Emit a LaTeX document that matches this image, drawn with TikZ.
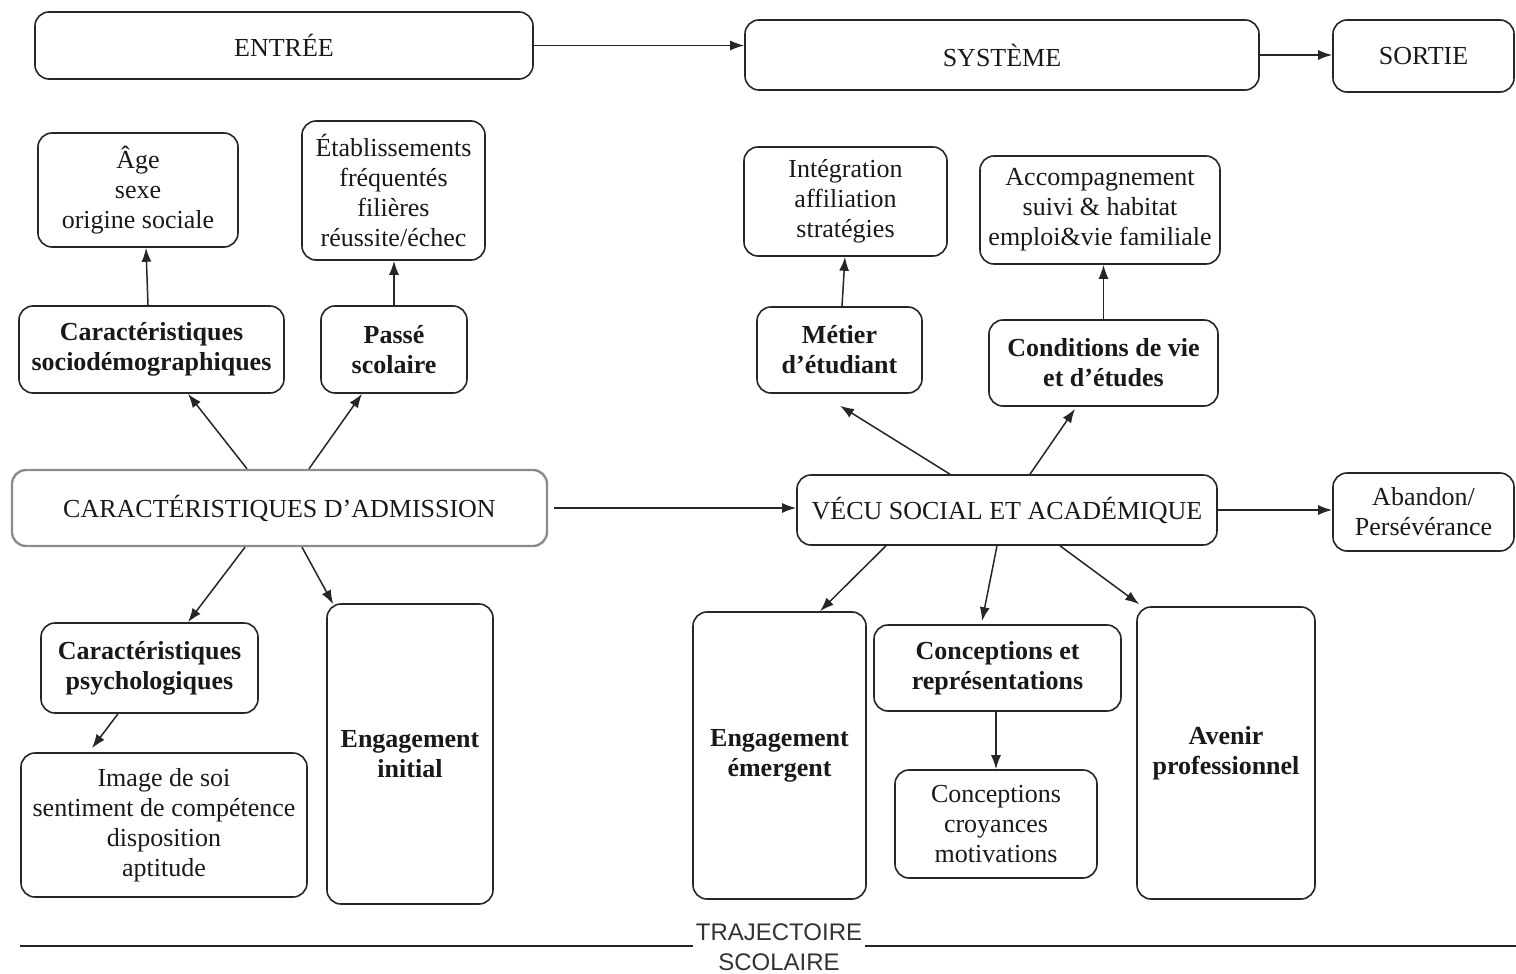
\documentclass[tikz,border=0pt]{standalone}
\usepackage{fontspec}
\setmainfont{Liberation Serif}
\newfontfamily\trajfont{Liberation Sans}
\usetikzlibrary{arrows.meta,calc}
\tikzset{
  box/.style={draw=black!85, line width=0.8pt, rounded corners=7pt, align=center,
    inner sep=0pt, font=\fontsize{13}{15}\selectfont, text=black!90},
  bbox/.style={box, font=\fontsize{13}{15}\selectfont\bfseries},
  admbox/.style={box, draw=black!45, line width=1.2pt},
  arr/.style={line width=0.75pt, draw=black!85, -{Latex[length=7pt,width=5pt]}},
  rule/.style={line width=0.7pt, draw=black!85}
}
\begin{document}
\begin{tikzpicture}[x=0.5pt, y=-0.5pt]
\useasboundingbox (0,0) rectangle (1516,974);

% top row
\node[box, minimum width=249pt, minimum height=33.5pt] (entree) at (284,45.5) {ENTRÉE};
\node[box, minimum width=257pt, minimum height=35pt] (systeme) at (1002,55) {SYSTÈME};
\node[box, minimum width=90.5pt, minimum height=36pt] (sortie) at (1423.5,56) {SORTIE};

% admission side
\node[box, minimum width=100pt, minimum height=57pt] (age) at (138,190) {Âge\\sexe\\origine sociale};
\node[box, minimum width=91.5pt, minimum height=69.5pt] (etab) at (393.5,190.5) {Établissements\\fréquentés\\filières\\réussite/échec};
\node[bbox, minimum width=132.5pt, minimum height=43.5pt] (socio) at (151.5,349.5) {Caractéristiques\\sociodémographiques};
\node[bbox, minimum width=73pt, minimum height=43.5pt] (passe) at (394,349.5) {Passé\\scolaire};
\node[admbox, minimum width=267.5pt, minimum height=38pt] (adm) at (279.5,508) {CARACTÉRISTIQUES D’ADMISSION};
\node[bbox, minimum width=108.5pt, minimum height=45pt] (psych) at (149.5,668) {Caractéristiques\\psychologiques};
\node[box, minimum width=143pt, minimum height=72pt] (image) at (164,825) {Image de soi\\sentiment de compétence\\disposition\\aptitude};
\node[bbox, minimum width=83pt, minimum height=150pt] (enginit) at (410,754) {Engagement\\initial};

% lived experience side
\node[box, minimum width=101.5pt, minimum height=54.5pt] (integ) at (845.5,201.5) {Intégration\\affiliation\\stratégies};
\node[box, minimum width=120pt, minimum height=54pt] (accomp) at (1100,210) {Accompagnement\\suivi \& habitat\\emploi\&vie familiale};
\node[bbox, minimum width=82.5pt, minimum height=43pt] (metier) at (839.5,350) {Métier\\d’étudiant};
\node[bbox, minimum width=114.5pt, minimum height=43pt] (cond) at (1103.5,363) {Conditions de vie\\et d’études};
\node[box, minimum width=210pt, minimum height=35pt] (vecu) at (1007,510) {VÉCU SOCIAL ET ACADÉMIQUE};
\node[box, minimum width=90.5pt, minimum height=39pt] (abandon) at (1423.5,512) {Abandon/\\Persévérance};
\node[bbox, minimum width=86.5pt, minimum height=143.5pt] (engem) at (779.5,755.5) {Engagement\\émergent};
\node[bbox, minimum width=123.5pt, minimum height=43pt] (concrep) at (997.5,668) {Conceptions et\\représentations};
\node[box, minimum width=101pt, minimum height=54pt] (conccroy) at (996,824) {Conceptions\\croyances\\motivations};
\node[bbox, minimum width=89pt, minimum height=146pt] (avenir) at (1226,753) {Avenir\\professionnel};

% flow along the top row
\draw[arr] (entree.east) -- (entree.east -| systeme.west);
\draw[arr] (systeme.east) -- (systeme.east -| sortie.west);

% admission branches
\draw[arr] ($(socio.north)+(-3.5,0)$) -- ($(age.south)+(8,0)$);
\draw[arr] (passe.north) -- (passe.north |- etab.south);
\draw[arr] ($(adm.north)+(-32.5,0)$) -- ($(socio.south)+(36.5,0)$);
\draw[arr] ($(adm.north)+(29.5,0)$) -- ($(passe.south)+(-32,0)$);
\draw[arr] ($(adm.south)+(-34.5,0)$) -- ($(psych.north)+(38.5,0)$);
\draw[arr] ($(adm.south)+(22.5,0)$) -- ($(enginit.north west)+(7,1)$);
\draw[arr] ($(psych.south)+(-31.5,0)$) -- ($(image.north)+(-72,-4)$);

% admission to lived experience
\draw[arr] ($(adm.east)+(6,0)$) -- (adm.east -| vecu.west);
\draw[arr] (vecu.east) -- (vecu.east -| abandon.west);

% lived experience branches
\draw[arr] ($(metier.north)+(2.5,0)$) -- ($(integ.south)+(-0.5,0)$);
\draw[arr] (cond.north) -- (cond.north |- accomp.south);
\draw[arr] ($(vecu.north)+(-57,0)$) -- ($(metier.south)+(0.5,12)$);
\draw[arr] ($(vecu.north)+(23,0)$) -- ($(cond.south)+(-28.5,2)$);
\draw[arr] ($(vecu.south)+(-121,0)$) -- ($(engem.north)+(40.5,0)$);
\draw[arr] ($(vecu.south)+(-10,0)$) -- ($(concrep.north)+(-15.5,-3)$);
\draw[arr] ($(vecu.south)+(53,0)$) -- ($(avenir.north west)+(3,-2)$);
\coordinate (crs) at ($(concrep.south)+(-1.5,0)$);
\draw[arr] (crs) -- (crs |- conccroy.north);

% trajectory rule
\coordinate (tl) at (20,946);
\coordinate (tr) at (1516,946);
\node[font=\trajfont\fontsize{12}{15}\selectfont, text=black!80, align=center, inner sep=1pt] (traj) at (779,947) {TRAJECTOIRE\\SCOLAIRE};
\draw[rule] (tl) -- (tl -| traj.west);
\draw[rule] (traj.east |- tr) -- (tr);
\end{tikzpicture}
\end{document}
